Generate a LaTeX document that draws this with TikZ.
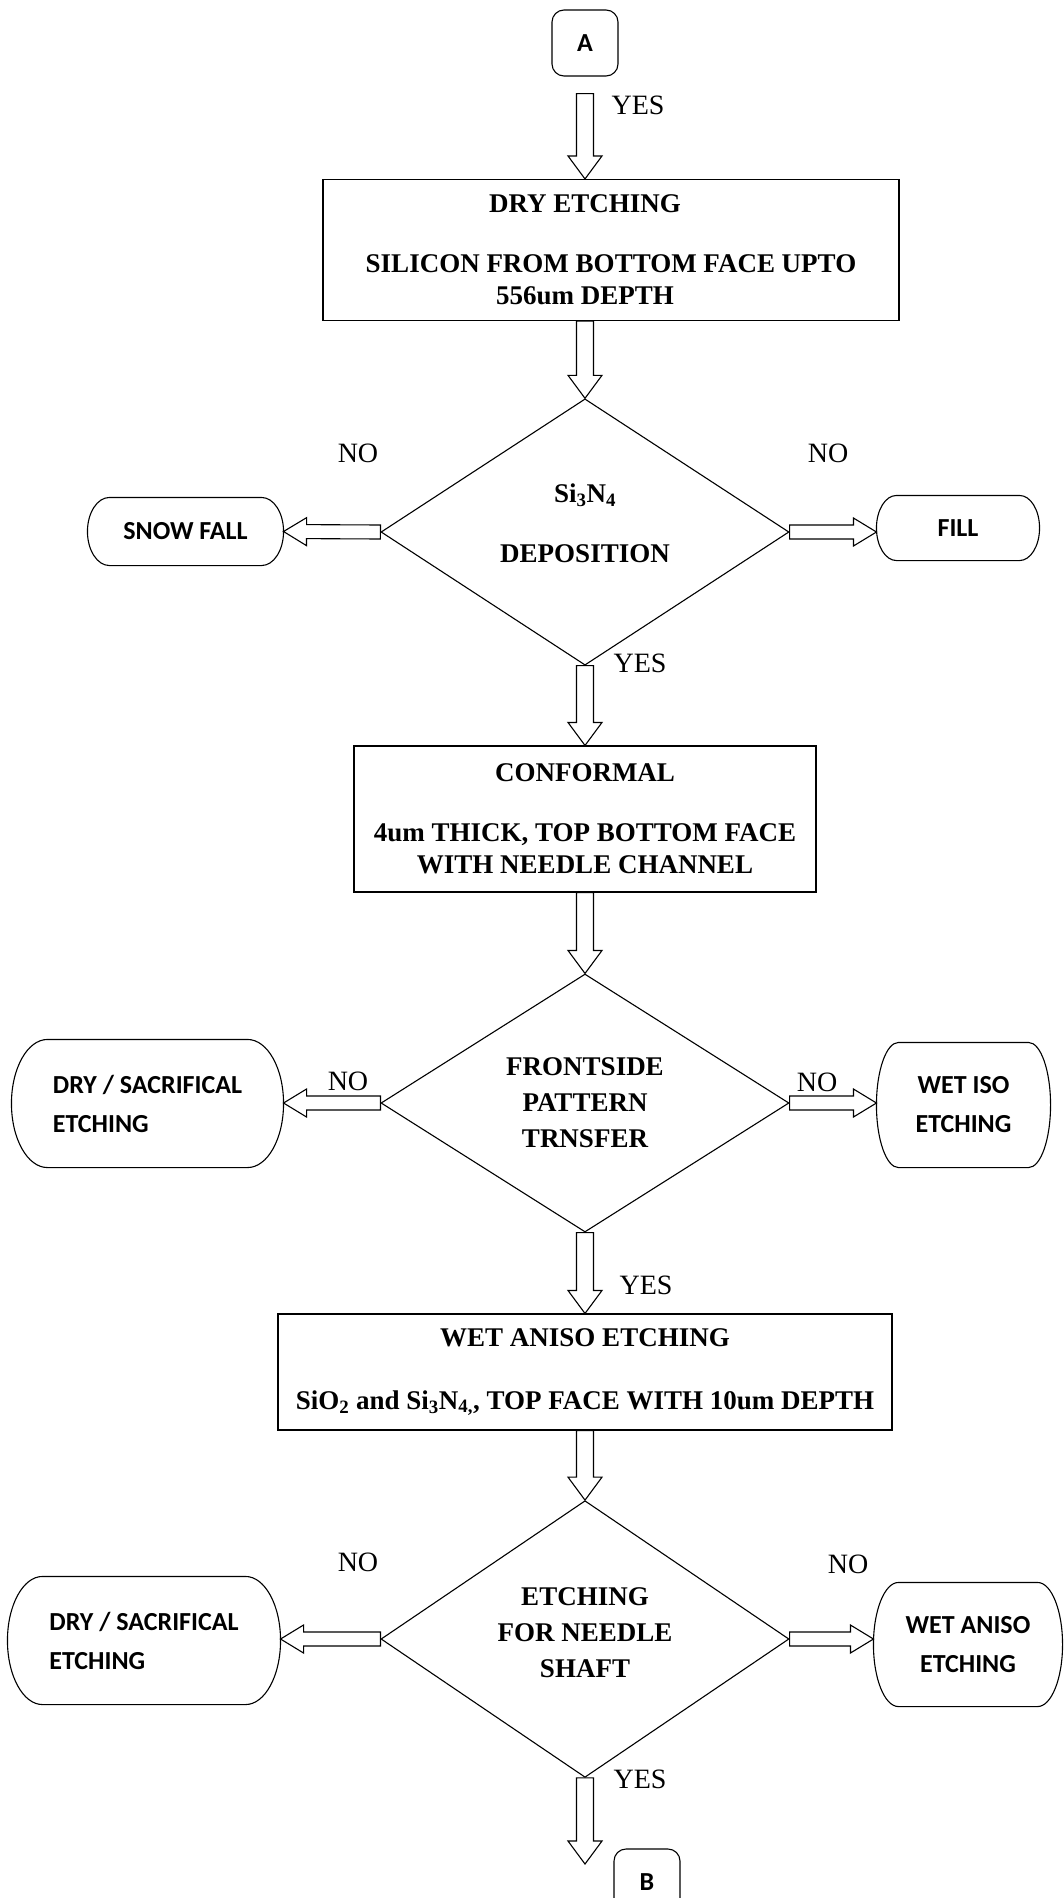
\documentclass[tikz,border=0pt]{standalone}
\usepackage{fontspec}
\setmainfont{Liberation Serif}
\newfontfamily\calib{Carlito}
\usetikzlibrary{calc,shapes.geometric}

\begin{document}
\begin{tikzpicture}[x=1pt,y=-1pt,line width=1.1pt,
  stepbox/.style={draw,rectangle,inner sep=0pt,align=center,
    font=\bfseries\fontsize{27}{32}\selectfont},
  decision/.style={draw,diamond,inner sep=0pt,align=center,
    minimum width=408pt,minimum height=258pt,
    font=\bfseries\fontsize{27}{36}\selectfont},
  endbox/.style={rectangle,inner sep=0pt,align=center,
    font=\calib\bfseries\fontsize{26}{39}\selectfont},
  answer/.style={font=\fontsize{28}{30}\selectfont},
  % hollow block arrow from start to target
  fatarrow/.style={fill=white,to path={
      ($(\tikztotarget)!23pt!(\tikztostart)$) coordinate (hb)
      ($(\tikztostart)!#1!90:(\tikztotarget)$)
      -- ($(hb)!#1!90:(\tikztotarget)$)
      -- ($(hb)!2*#1!90:(\tikztotarget)$)
      -- (\tikztotarget)
      -- ($(hb)!2*#1!-90:(\tikztotarget)$)
      -- ($(hb)!#1!-90:(\tikztotarget)$)
      -- ($(\tikztostart)!#1!-90:(\tikztotarget)$) -- cycle}},
  fatarrow/.default=8.5pt]

  \useasboundingbox (0,0) rectangle (1064,1898);
  \clip (0,0) rectangle (1064,1898);

  % connectors
  \node[endbox,draw,rounded corners=12pt,minimum width=66pt,minimum height=66pt]
    (A) at (585,43) {A};
  \node[endbox,draw,rounded corners=12pt,minimum width=66pt,minimum height=66pt]
    (B) at (647,1882) {B};

  % process steps
  \node[stepbox,minimum width=576pt,minimum height=141pt] (dry) at (611,250)
    {DRY ETCHING\hspace*{52pt}\\[28pt]
     SILICON FROM BOTTOM FACE UPTO\\
     556um DEPTH\hspace*{52pt}};
  \node[stepbox,minimum width=462pt,minimum height=146pt] (conf) at (585,819)
    {CONFORMAL\\[28pt]
     4um THICK, TOP BOTTOM FACE\\
     WITH NEEDLE CHANNEL};
  \node[stepbox,minimum width=614pt,minimum height=116pt]
    (aniso) at (585,1372)
    {WET ANISO ETCHING\\[31pt]
     SiO\textsubscript{2} and Si\textsubscript{3}N\textsubscript{4,},
     TOP FACE WITH 10um DEPTH};

  % decisions
  \node[decision,text depth=18pt] (dep) at (585,532)
    {Si\textsubscript{3}N\textsubscript{4}\\[24pt]DEPOSITION};
  \node[decision] (front) at (585,1103) {FRONTSIDE\\PATTERN\\TRNSFER};
  \node[decision,minimum height=252pt,text depth=12pt] (shaft) at (585,1639)
    {ETCHING\\FOR NEEDLE\\SHAFT};

  % side branches
  \node[endbox,minimum width=195pt,minimum height=67pt]
    (snow) at (185.5,531.5) {SNOW FALL};
  \node[endbox,minimum width=162pt,minimum height=64pt]
    (fill) at (958,528) {FILL};
  \node[endbox,align=left,minimum width=271pt,minimum height=127pt]
    (sacA) at (147.5,1103.5) {DRY / SACRIFICAL\\ETCHING};
  \node[endbox,minimum width=173pt,minimum height=124pt]
    (wetiso) at (963.5,1105) {WET ISO\\ETCHING};
  \node[endbox,align=left,minimum width=272pt,minimum height=127pt]
    (sacB) at (144,1640.5) {DRY / SACRIFICAL\\ETCHING};
  \node[endbox,minimum width=188pt,minimum height=123pt]
    (wetaniso) at (968,1644.5) {WET ANISO\\ETCHING};

  % outlines with elliptic ends
  \foreach \endb/\capr in {snow/22pt,fill/20pt,sacA/36pt,wetiso/22pt,
                           sacB/35pt,wetaniso/25pt}
    \draw let \p1=(\endb.north west), \p2=(\endb.south east),
              \n1={(\y1-\y2)/2} in
      (\x1+\capr,\y1) -- (\x2-\capr,\y1)
      arc[start angle=90,end angle=-90,x radius=\capr,y radius=\n1]
      -- (\x1+\capr,\y2)
      arc[start angle=270,end angle=90,x radius=\capr,y radius=\n1] -- cycle;

  \coordinate (done) at (585,1864);

  % main flow
  \draw[fatarrow] ([yshift=-17pt]A.south) to (A.south |- dry.north);
  \draw[fatarrow] (dep.north |- dry.south) to (dep.north);
  \draw[fatarrow] (dep.south) to (conf.north);
  \draw[fatarrow] (conf.south) to (front.north);
  \draw[fatarrow] (front.south) to (aniso.north);
  \draw[fatarrow] (aniso.south) to (shaft.north);
  \draw[fatarrow] (shaft.south) to (done);

  % rejected branches
  \draw[fatarrow=7pt] (dep.west) to (snow.east);
  \draw[fatarrow=7pt] (dep.east) to (dep.east -| fill.west);
  \draw[fatarrow=7pt] (front.west) to (front.west -| sacA.east);
  \draw[fatarrow=7pt] (front.east) to (front.east -| wetiso.west);
  \draw[fatarrow=7pt] (shaft.west) to (shaft.west -| sacB.east);
  \draw[fatarrow=7pt] (shaft.east) to (shaft.east -| wetaniso.west);

  % answers
  \node[answer] (yes1) at (638,105) {YES};
  \node[answer] (yes2) at (640,663) {YES};
  \node[answer] (yes3) at (646,1285) {YES};
  \node[answer] (yes4) at (640,1779) {YES};
  \node[answer] (no1) at (358,453) {NO};
  \node[answer] (no2) at (828,453) {NO};
  \node[answer] (no3) at (348,1081) {NO};
  \node[answer] (no4) at (817,1082) {NO};
  \node[answer] (no5) at (358,1562) {NO};
  \node[answer] (no6) at (848,1564) {NO};
\end{tikzpicture}
\end{document}
